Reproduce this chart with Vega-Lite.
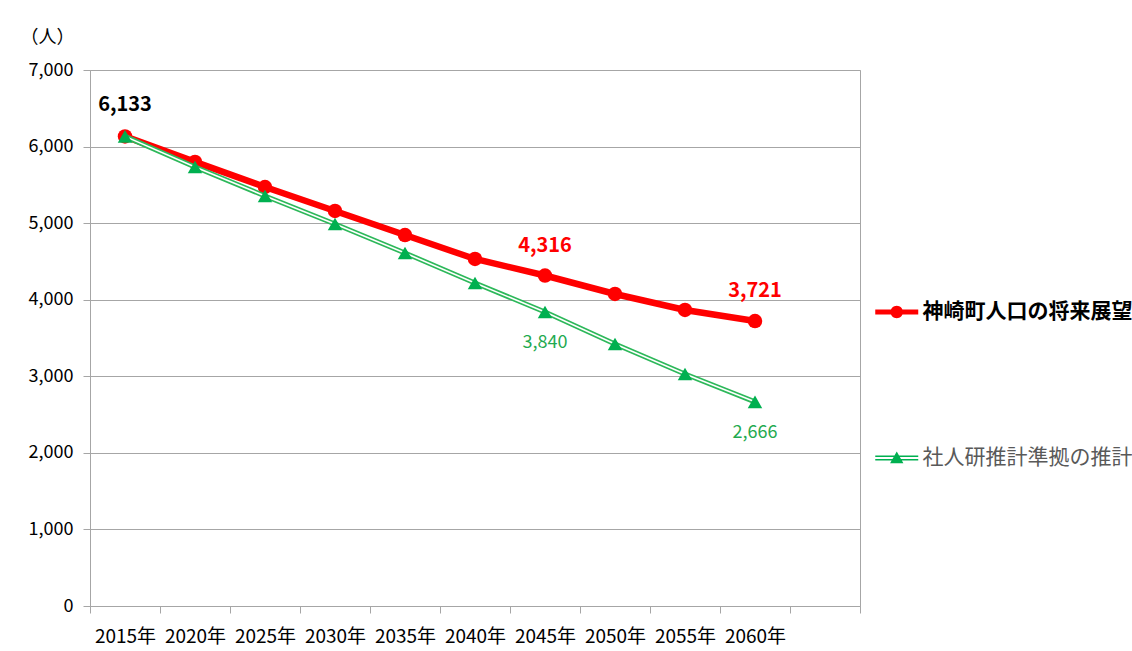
{
  "$schema": "https://vega.github.io/schema/vega-lite/v6.json",
  "width": 770,
  "height": 536,
  "autosize": {"type": "none"},
  "padding": {"left": 90, "top": 70, "right": 272, "bottom": 45},
  "background": "white",
  "config": {
    "font": "Noto Sans CJK JP",
    "view": {"stroke": "#A6A6A6", "strokeWidth": 1}
  },
  "data": {
    "values": [
      {"year": 2015, "series": "神崎町人口の将来展望", "value": 6133},
      {"year": 2020, "series": "神崎町人口の将来展望", "value": 5800},
      {"year": 2025, "series": "神崎町人口の将来展望", "value": 5472},
      {"year": 2030, "series": "神崎町人口の将来展望", "value": 5159},
      {"year": 2035, "series": "神崎町人口の将来展望", "value": 4845},
      {"year": 2040, "series": "神崎町人口の将来展望", "value": 4532},
      {"year": 2045, "series": "神崎町人口の将来展望", "value": 4316},
      {"year": 2050, "series": "神崎町人口の将来展望", "value": 4075},
      {"year": 2055, "series": "神崎町人口の将来展望", "value": 3866},
      {"year": 2060, "series": "神崎町人口の将来展望", "value": 3721},
      {"year": 2015, "series": "社人研推計準拠の推計", "value": 6133},
      {"year": 2020, "series": "社人研推計準拠の推計", "value": 5733},
      {"year": 2025, "series": "社人研推計準拠の推計", "value": 5355},
      {"year": 2030, "series": "社人研推計準拠の推計", "value": 4989},
      {"year": 2035, "series": "社人研推計準拠の推計", "value": 4610},
      {"year": 2040, "series": "社人研推計準拠の推計", "value": 4218},
      {"year": 2045, "series": "社人研推計準拠の推計", "value": 3840},
      {"year": 2050, "series": "社人研推計準拠の推計", "value": 3422},
      {"year": 2055, "series": "社人研推計準拠の推計", "value": 3030},
      {"year": 2060, "series": "社人研推計準拠の推計", "value": 2666}
    ]
  },
  "encoding": {
    "x": {
      "field": "year",
      "type": "quantitative",
      "scale": {"domain": [2012.5, 2067.5], "nice": false, "zero": false},
      "axis": {
        "title": null,
        "values": [2012.5, 2017.5, 2022.5, 2027.5, 2032.5, 2037.5, 2042.5, 2047.5, 2052.5, 2057.5, 2062.5, 2067.5],
        "labelExpr": "datum.value < 2015 || datum.value > 2065 ? '' : (datum.value - 2.5) + '年'",
        "labelOffset": -35,
        "labelOverlap": false,
        "labelBound": false,
        "labelFlush": false,
        "labelFontSize": 19,
        "labelColor": "#000000",
        "labelPadding": 14,
        "tickSize": 7,
        "tickColor": "#A6A6A6",
        "domainColor": "#A6A6A6",
        "grid": false
      }
    },
    "y": {
      "field": "value",
      "type": "quantitative",
      "scale": {"domain": [0, 7000], "nice": false},
      "axis": {
        "title": "（人）",
        "titleAngle": 0,
        "titleX": -43,
        "titleY": -33,
        "titleAlign": "center",
        "titleBaseline": "middle",
        "titleFontSize": 18,
        "titleFontWeight": "normal",
        "titleColor": "#000000",
        "values": [0, 1000, 2000, 3000, 4000, 5000, 6000, 7000],
        "format": ",.0f",
        "labelFontSize": 18,
        "labelColor": "#000000",
        "labelPadding": 10,
        "tickSize": 7,
        "tickColor": "#A6A6A6",
        "domainColor": "#A6A6A6",
        "gridColor": "#A6A6A6",
        "gridWidth": 1
      }
    }
  },
  "layer": [
    {
      "transform": [{"filter": "datum.series === '神崎町人口の将来展望'"}],
      "mark": {"type": "line", "strokeWidth": 6.5},
      "encoding": {
        "color": {
          "field": "series",
          "type": "nominal",
          "scale": {"domain": ["神崎町人口の将来展望", "社人研推計準拠の推計"], "range": ["#FF0000", "#2DB85A"]},
          "legend": {
            "title": null,
            "orient": "none",
            "legendX": 795.75,
            "legendY": 231,
            "padding": 0,
            "symbolSize": 462,
            "labelOffset": 14.75,
            "labelFontSize": 21,
            "labelLimit": 400,
            "rowPadding": 125,
            "symbolStrokeWidth": 0,
            "encode": {
              "symbols": {
                "update": {
                  "shape": {"signal": "datum.value === '神崎町人口の将来展望' ? 'M-2,-0.23H2V0.23H-2Z M0.58,0A0.58,0.58 0 1,1 -0.58,0A0.58,0.58 0 1,1 0.58,0Z' : 'M-2,-0.23H2V-0.09H-2Z M-2,0.09H2V0.23H-2Z M0,-0.6L0.62,0.5H-0.62Z'"},
                  "fill": {"signal": "datum.value === '神崎町人口の将来展望' ? '#FF0000' : '#00B050'"},
                  "stroke": {"value": "transparent"},
                  "strokeWidth": {"value": 0}
                }
              },
              "labels": {
                "update": {
                  "fontWeight": {"signal": "datum.value === '神崎町人口の将来展望' ? 'bold' : 'normal'"},
                  "fill": {"signal": "datum.value === '神崎町人口の将来展望' ? '#000000' : '#595959'"}
                }
              }
            }
          }
        }
      }
    },
    {
      "transform": [{"filter": "datum.series === '神崎町人口の将来展望'"}],
      "mark": {"type": "point", "shape": "circle", "filled": true, "fill": "#FF0000", "size": 210, "opacity": 1}
    },
    {
      "transform": [{"filter": "datum.series === '社人研推計準拠の推計'"}],
      "mark": {"type": "line", "strokeWidth": 5},
      "encoding": {"color": {"field": "series", "type": "nominal"}}
    },
    {
      "transform": [{"filter": "datum.series === '社人研推計準拠の推計'"}],
      "mark": {"type": "line", "strokeWidth": 1.6, "color": "#FFFFFF"}
    },
    {
      "transform": [{"filter": "datum.series === '社人研推計準拠の推計'"}],
      "mark": {"type": "point", "shape": "triangle-up", "filled": true, "fill": "#00B050", "size": 210, "opacity": 1}
    },
    {
      "transform": [{"filter": "datum.series === '神崎町人口の将来展望' && datum.year === 2015"}],
      "mark": {"type": "text", "dy": -31, "fontSize": 20, "fontWeight": "bold", "color": "#000000"},
      "encoding": {"text": {"field": "value", "type": "quantitative", "format": ","}}
    },
    {
      "transform": [{"filter": "datum.series === '神崎町人口の将来展望' && (datum.year === 2045 || datum.year === 2060)"}],
      "mark": {"type": "text", "dy": -30, "fontSize": 20, "fontWeight": "bold", "color": "#FF0000"},
      "encoding": {"text": {"field": "value", "type": "quantitative", "format": ","}}
    },
    {
      "transform": [{"filter": "datum.series === '社人研推計準拠の推計' && (datum.year === 2045 || datum.year === 2060)"}],
      "mark": {"type": "text", "dy": 31, "fontSize": 18, "fontWeight": "normal", "color": "#1FAA50"},
      "encoding": {"text": {"field": "value", "type": "quantitative", "format": ","}}
    }
  ]
}
